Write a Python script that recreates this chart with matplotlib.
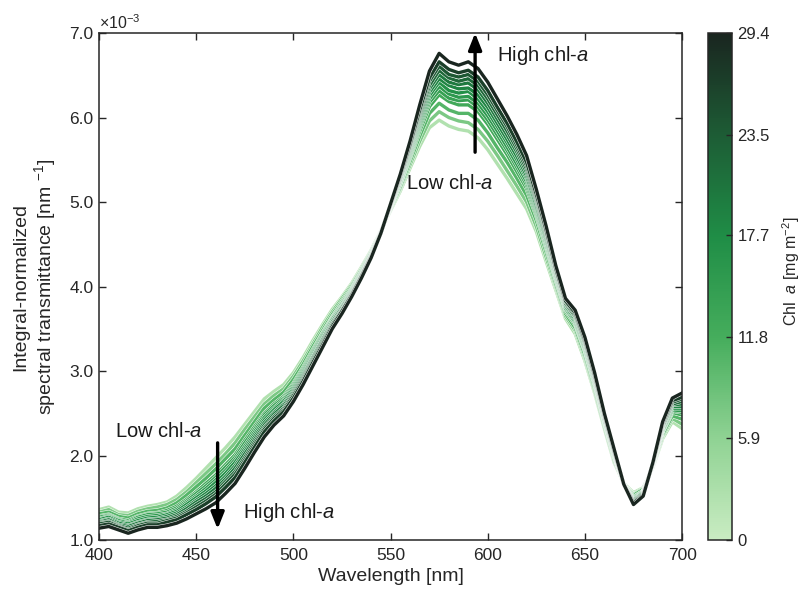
import matplotlib
matplotlib.use("Agg")
import matplotlib.pyplot as plt
import matplotlib.patheffects as pe
from matplotlib.colors import LinearSegmentedColormap, Normalize
from matplotlib.cm import ScalarMappable

plt.rcParams["font.family"] = ["Liberation Sans", "DejaVu Sans"]
plt.rcParams["mathtext.fontset"] = "custom"
plt.rcParams["mathtext.rm"] = "Liberation Sans"
plt.rcParams["mathtext.it"] = "Liberation Sans:italic"

# wavelength grid [nm]
wavelength = list(range(400, 701, 5))

# chl-a of each spectrum [mg m-2], low -> high
chl = [2.5, 7.5, 10.5, 12.5, 14.0, 15.5, 17.0, 18.5, 20.0, 22.0, 24.0, 26.5, 29.4]

# integral-normalized transmittance, x1e-3 nm-1, one list per spectrum (same order as chl)
t00 = [1.36, 1.39, 1.33, 1.32, 1.37, 1.40, 1.42, 1.45, 1.52, 1.62, 1.73, 1.85, 1.97, 2.09, 2.22, 2.37,
       2.52, 2.67, 2.76, 2.84, 2.98, 3.16, 3.36, 3.55, 3.73, 3.88, 4.04, 4.23, 4.43, 4.66, 4.90, 5.13,
       5.40, 5.66, 5.88, 5.97, 5.90, 5.86, 5.84, 5.76, 5.62, 5.45, 5.28, 5.10, 4.92, 4.65, 4.30, 3.96,
       3.62, 3.44, 3.12, 2.74, 2.32, 1.92, 1.67, 1.56, 1.62, 1.86, 2.20, 2.40, 2.32]
t01 = [1.33, 1.36, 1.30, 1.29, 1.34, 1.37, 1.39, 1.42, 1.48, 1.57, 1.68, 1.79, 1.90, 2.02, 2.15, 2.31,
       2.46, 2.61, 2.71, 2.79, 2.94, 3.12, 3.32, 3.52, 3.70, 3.86, 4.02, 4.21, 4.42, 4.66, 4.91, 5.16,
       5.44, 5.72, 5.96, 6.07, 6.00, 5.96, 5.94, 5.86, 5.72, 5.55, 5.37, 5.19, 5.00, 4.71, 4.35, 4.00,
       3.65, 3.48, 3.16, 2.77, 2.34, 1.94, 1.66, 1.54, 1.61, 1.87, 2.23, 2.44, 2.37]
t02 = [1.31, 1.33, 1.28, 1.26, 1.31, 1.34, 1.35, 1.38, 1.44, 1.53, 1.63, 1.73, 1.84, 1.96, 2.08, 2.24,
       2.40, 2.56, 2.66, 2.75, 2.90, 3.08, 3.29, 3.48, 3.67, 3.83, 4.00, 4.20, 4.41, 4.65, 4.92, 5.18,
       5.48, 5.78, 6.05, 6.17, 6.09, 6.05, 6.05, 5.97, 5.82, 5.64, 5.47, 5.28, 5.08, 4.78, 4.41, 4.03,
       3.68, 3.51, 3.19, 2.80, 2.37, 1.96, 1.66, 1.53, 1.60, 1.88, 2.25, 2.47, 2.43]
t03 = [1.28, 1.30, 1.25, 1.23, 1.28, 1.31, 1.32, 1.35, 1.40, 1.48, 1.57, 1.67, 1.77, 1.89, 2.01, 2.18,
       2.34, 2.50, 2.61, 2.70, 2.85, 3.04, 3.25, 3.45, 3.64, 3.81, 3.98, 4.18, 4.40, 4.65, 4.93, 5.21,
       5.52, 5.84, 6.13, 6.27, 6.19, 6.15, 6.15, 6.07, 5.92, 5.74, 5.56, 5.36, 5.16, 4.84, 4.46, 4.07,
       3.71, 3.55, 3.23, 2.83, 2.39, 1.98, 1.67, 1.51, 1.58, 1.88, 2.28, 2.51, 2.48]
t04 = [1.27, 1.29, 1.24, 1.21, 1.27, 1.30, 1.31, 1.33, 1.38, 1.46, 1.55, 1.64, 1.74, 1.86, 1.98, 2.15,
       2.31, 2.48, 2.59, 2.68, 2.83, 3.02, 3.23, 3.44, 3.63, 3.80, 3.97, 4.18, 4.40, 4.65, 4.94, 5.22,
       5.54, 5.88, 6.18, 6.32, 6.23, 6.20, 6.21, 6.12, 5.97, 5.79, 5.61, 5.41, 5.20, 4.87, 4.49, 4.09,
       3.73, 3.57, 3.25, 2.85, 2.40, 1.99, 1.67, 1.50, 1.58, 1.89, 2.29, 2.53, 2.51]
t05 = [1.25, 1.28, 1.23, 1.20, 1.25, 1.28, 1.29, 1.31, 1.36, 1.44, 1.52, 1.61, 1.71, 1.82, 1.95, 2.11,
       2.28, 2.45, 2.56, 2.66, 2.81, 3.00, 3.21, 3.42, 3.62, 3.78, 3.96, 4.17, 4.39, 4.65, 4.94, 5.23,
       5.56, 5.91, 6.22, 6.37, 6.28, 6.24, 6.25, 6.17, 6.02, 5.84, 5.65, 5.45, 5.24, 4.90, 4.51, 4.11,
       3.74, 3.58, 3.26, 2.86, 2.41, 2.00, 1.66, 1.49, 1.57, 1.89, 2.30, 2.54, 2.53]
t06 = [1.24, 1.27, 1.21, 1.19, 1.23, 1.26, 1.27, 1.30, 1.34, 1.42, 1.50, 1.58, 1.68, 1.79, 1.92, 2.08,
       2.25, 2.42, 2.54, 2.64, 2.79, 2.98, 3.19, 3.40, 3.61, 3.77, 3.95, 4.16, 4.38, 4.65, 4.95, 5.25,
       5.58, 5.94, 6.26, 6.42, 6.32, 6.29, 6.31, 6.22, 6.07, 5.89, 5.70, 5.50, 5.28, 4.93, 4.54, 4.13,
       3.76, 3.60, 3.28, 2.88, 2.42, 2.01, 1.66, 1.48, 1.57, 1.90, 2.32, 2.56, 2.56]
t07 = [1.22, 1.25, 1.20, 1.17, 1.21, 1.24, 1.25, 1.28, 1.32, 1.39, 1.47, 1.55, 1.64, 1.75, 1.88, 2.05,
       2.22, 2.39, 2.51, 2.61, 2.77, 2.96, 3.17, 3.38, 3.59, 3.76, 3.94, 4.15, 4.37, 4.64, 4.95, 5.26,
       5.60, 5.97, 6.30, 6.46, 6.38, 6.34, 6.35, 6.27, 6.12, 5.93, 5.74, 5.54, 5.31, 4.96, 4.56, 4.14,
       3.77, 3.62, 3.30, 2.89, 2.43, 2.02, 1.65, 1.47, 1.56, 1.90, 2.33, 2.58, 2.58]
t08 = [1.21, 1.24, 1.18, 1.16, 1.20, 1.23, 1.24, 1.26, 1.30, 1.37, 1.45, 1.52, 1.61, 1.72, 1.85, 2.02,
       2.19, 2.36, 2.49, 2.59, 2.75, 2.94, 3.16, 3.37, 3.58, 3.75, 3.93, 4.14, 4.37, 4.64, 4.96, 5.27,
       5.62, 6.00, 6.34, 6.51, 6.42, 6.39, 6.41, 6.33, 6.17, 5.98, 5.79, 5.59, 5.35, 5.00, 4.59, 4.16,
       3.79, 3.64, 3.32, 2.91, 2.45, 2.03, 1.66, 1.47, 1.56, 1.90, 2.34, 2.60, 2.61]
t09 = [1.20, 1.22, 1.17, 1.14, 1.18, 1.21, 1.22, 1.24, 1.28, 1.34, 1.42, 1.49, 1.57, 1.69, 1.81, 1.98,
       2.16, 2.33, 2.46, 2.56, 2.73, 2.92, 3.14, 3.35, 3.56, 3.73, 3.92, 4.13, 4.36, 4.64, 4.96, 5.28,
       5.64, 6.03, 6.38, 6.56, 6.47, 6.43, 6.46, 6.38, 6.22, 6.03, 5.84, 5.63, 5.39, 5.03, 4.62, 4.18,
       3.80, 3.65, 3.33, 2.92, 2.46, 2.04, 1.66, 1.46, 1.55, 1.90, 2.35, 2.61, 2.64]
t10 = [1.19, 1.21, 1.16, 1.12, 1.17, 1.20, 1.20, 1.23, 1.26, 1.32, 1.39, 1.46, 1.54, 1.66, 1.78, 1.95,
       2.13, 2.31, 2.44, 2.54, 2.71, 2.90, 3.12, 3.33, 3.55, 3.72, 3.91, 4.13, 4.36, 4.64, 4.97, 5.30,
       5.66, 6.06, 6.43, 6.61, 6.51, 6.48, 6.51, 6.43, 6.27, 6.08, 5.89, 5.67, 5.43, 5.06, 4.65, 4.20,
       3.82, 3.67, 3.35, 2.94, 2.47, 2.05, 1.66, 1.45, 1.54, 1.91, 2.37, 2.63, 2.67]
t11 = [1.17, 1.19, 1.15, 1.11, 1.15, 1.18, 1.18, 1.21, 1.24, 1.30, 1.36, 1.43, 1.51, 1.62, 1.74, 1.92,
       2.10, 2.28, 2.41, 2.52, 2.68, 2.88, 3.10, 3.31, 3.53, 3.71, 3.90, 4.12, 4.35, 4.63, 4.97, 5.31,
       5.68, 6.09, 6.47, 6.66, 6.57, 6.53, 6.56, 6.48, 6.32, 6.12, 5.93, 5.71, 5.47, 5.09, 4.67, 4.21,
       3.83, 3.69, 3.37, 2.95, 2.48, 2.06, 1.66, 1.44, 1.53, 1.91, 2.38, 2.65, 2.69]
t12 = [1.14, 1.16, 1.12, 1.08, 1.12, 1.15, 1.15, 1.17, 1.20, 1.25, 1.31, 1.37, 1.44, 1.55, 1.67, 1.85,
       2.04, 2.22, 2.36, 2.47, 2.64, 2.84, 3.06, 3.28, 3.50, 3.68, 3.88, 4.10, 4.34, 4.63, 4.98, 5.33,
       5.72, 6.15, 6.55, 6.76, 6.66, 6.62, 6.66, 6.58, 6.42, 6.22, 6.02, 5.80, 5.55, 5.15, 4.72, 4.25,
       3.86, 3.72, 3.40, 2.98, 2.50, 2.08, 1.66, 1.42, 1.52, 1.92, 2.40, 2.68, 2.74]
spectra = [t00, t01, t02, t03, t04, t05, t06, t07, t08, t09, t10, t11, t12]

cbar_ticks = [0, 5.9, 11.8, 17.7, 23.5, 29.4]
chl_max = 29.4

cmap = LinearSegmentedColormap.from_list(
    "chl", ["#c9ecc2", "#8fd293", "#45ad5c", "#1f8d46", "#1d5c35", "#1a2620"])
norm = Normalize(vmin=0, vmax=chl_max)

ink = "#262626"

fig = plt.figure(figsize=(8.12, 5.95), dpi=100)
ax = fig.add_axes([0.122, 0.0924, 0.718, 0.852])
cax = fig.add_axes([0.872, 0.0924, 0.030, 0.852])

for c, t in zip(chl, spectra):
    ax.plot(wavelength, t, color=cmap(norm(c)), lw=2.4, solid_joinstyle="round",
            path_effects=[pe.Stroke(linewidth=3.1, foreground="white"), pe.Normal()])

ax.set_xlim(400, 700)
ax.set_ylim(1.0, 7.0)
ax.set_xticks([400, 450, 500, 550, 600, 650, 700])
ax.set_yticks([1, 2, 3, 4, 5, 6, 7])
ax.set_yticklabels([f"{v:.1f}" for v in [1, 2, 3, 4, 5, 6, 7]])
ax.tick_params(direction="in", top=True, right=True, length=5, width=1, labelsize=12.5,
               colors=ink)
ax.tick_params(axis="x", pad=6)
ax.tick_params(axis="y", pad=4)
for s in ax.spines.values():
    s.set_linewidth(1.1)
    s.set_color(ink)
ax.text(0.0, 1.003, r"$\times$10$^{-3}$", transform=ax.transAxes, fontsize=11.5,
        ha="left", va="bottom", color=ink)
ax.set_xlabel("Wavelength [nm]", fontsize=14, color=ink, labelpad=3)
ax.set_ylabel("Integral-normalized\nspectral transmittance [nm $^{-1}$]", fontsize=14,
              color=ink, labelpad=8, linespacing=1.15)

# chl-a trend arrows
arrow = dict(arrowstyle="-|>,head_length=1.0,head_width=0.4", color="black", lw=2.4,
             shrinkA=0, shrinkB=0)
ax.annotate("", xy=(593.5, 7.0), xytext=(593.5, 5.59), arrowprops=arrow)
ax.annotate("", xy=(461, 1.13), xytext=(461, 2.15), arrowprops=arrow)
ax.text(605, 6.74, "High chl-$a$", fontsize=14.5, ha="left", va="center", color="#1a1a1a")
ax.text(558, 5.22, "Low chl-$a$", fontsize=14.5, ha="left", va="center", color="#1a1a1a")
ax.text(408, 2.28, "Low chl-$a$", fontsize=14.5, ha="left", va="center", color="#1a1a1a")
ax.text(474, 1.33, "High chl-$a$", fontsize=14.5, ha="left", va="center", color="#1a1a1a")

sm = ScalarMappable(norm=norm, cmap=cmap)
cb = fig.colorbar(sm, cax=cax, ticks=cbar_ticks)
cb.ax.set_yticklabels(["0", "5.9", "11.8", "17.7", "23.5", "29.4"])
cb.ax.tick_params(direction="in", length=4, width=1, labelsize=12, colors=ink)
cb.outline.set_linewidth(1.1)
cb.outline.set_edgecolor(ink)
cb.set_label("Chl  $a$ [mg m$^{-2}$]", fontsize=11.5, color=ink)
cb.ax.yaxis.set_label_coords(2.95, 0.53)

fig.savefig("out.png", dpi=100)
